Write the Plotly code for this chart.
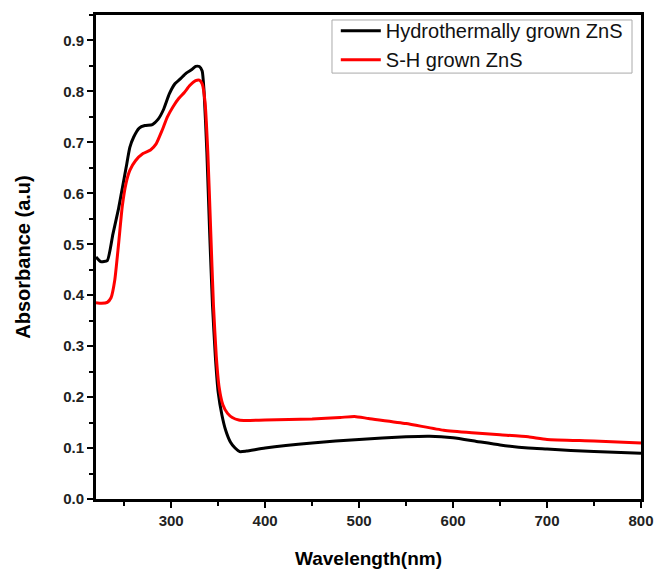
import plotly.graph_objects as go

wl_black = [220, 225, 232, 238, 244, 248, 252, 256, 260, 266, 272, 280, 286, 292, 298, 304, 310, 316, 322, 326, 330, 333, 335, 338, 341, 344, 347, 350, 354, 358, 363, 368, 373, 380, 400, 450, 500, 550, 575, 600, 625, 650, 680, 700, 750, 800]
ab_black = [0.475, 0.466, 0.468, 0.52, 0.57, 0.61, 0.65, 0.69, 0.71, 0.728, 0.733, 0.735, 0.745, 0.765, 0.795, 0.815, 0.825, 0.836, 0.843, 0.849, 0.849, 0.84, 0.8, 0.68, 0.52, 0.38, 0.28, 0.21, 0.165, 0.135, 0.112, 0.1, 0.093, 0.094, 0.1, 0.11, 0.117, 0.122, 0.123, 0.12, 0.113, 0.106, 0.1, 0.098, 0.093, 0.09]

wl_red = [220, 226, 232, 236, 240, 244, 248, 252, 256, 262, 270, 278, 284, 290, 296, 302, 308, 314, 320, 326, 330, 333, 336, 339, 342, 345, 348, 351, 355, 360, 365, 372, 380, 400, 450, 480, 495, 510, 550, 590, 620, 650, 680, 700, 750, 800]
ab_red = [0.385, 0.384, 0.386, 0.395, 0.43, 0.5, 0.575, 0.62, 0.645, 0.664, 0.678, 0.685, 0.697, 0.722, 0.75, 0.77, 0.786, 0.798, 0.812, 0.821, 0.822, 0.815, 0.78, 0.68, 0.53, 0.38, 0.28, 0.22, 0.185, 0.168, 0.16, 0.155, 0.154, 0.155, 0.157, 0.16, 0.162, 0.158, 0.148, 0.135, 0.13, 0.126, 0.122, 0.117, 0.114, 0.11]

x_ticks = [300, 400, 500, 600, 700, 800]
y_ticks = [0.0, 0.1, 0.2, 0.3, 0.4, 0.5, 0.6, 0.7, 0.8, 0.9]

FONT = "Liberation Sans, Arial, sans-serif"

fig = go.Figure()
fig.add_trace(go.Scatter(x=wl_black, y=ab_black, mode="lines", name="Hydrothermally grown ZnS",
                         line=dict(color="black", width=3, shape="spline", smoothing=0.5)))
fig.add_trace(go.Scatter(x=wl_red, y=ab_red, mode="lines", name="S-H grown ZnS",
                         line=dict(color="#ff0000", width=3, shape="spline", smoothing=0.5)))

# legend frame (tighter than plotly's own legend border)
fig.add_shape(type="rect", xref="paper", yref="paper",
              x0=0.433, x1=0.9835, y0=0.880, y1=0.9897,
              line=dict(color="#aaaaaa", width=1), fillcolor="white", layer="above")

fig.update_layout(
    width=654, height=571,
    margin=dict(l=96, r=13, t=15, b=72, autoexpand=False),
    plot_bgcolor="white", paper_bgcolor="white",
    showlegend=True,
    legend=dict(x=0.44, y=1.008, xanchor="left", yanchor="top",
                borderwidth=0, bgcolor="rgba(0,0,0,0)",
                font=dict(family=FONT, size=20, color="#111"),
                tracegroupgap=0, itemwidth=40),
)
fig.update_xaxes(
    range=[220, 800], tickvals=x_ticks, ticktext=[f"<b>{v}</b>" for v in x_ticks],
    ticks="outside", ticklen=6, tickwidth=2, tickcolor="black",
    minor=dict(ticks="outside", ticklen=4, tickwidth=2, tickcolor="black", dtick=50, tick0=200),
    showline=True, linewidth=3, linecolor="black", mirror=True,
    showgrid=False, zeroline=False, automargin=False,
    tickfont=dict(family=FONT, size=15, color="#222"),
    title=dict(text="<b>Wavelength(nm)</b>", font=dict(family=FONT, size=19, color="black"), standoff=24),
)
fig.update_yaxes(
    range=[0, 0.95], tickvals=y_ticks, ticktext=[f"<b>{v:.1f}</b>" for v in y_ticks],
    ticks="outside", ticklen=6, tickwidth=2, tickcolor="black",
    minor=dict(ticks="outside", ticklen=4, tickwidth=2, tickcolor="black", dtick=0.05, tick0=0),
    showline=True, linewidth=3, linecolor="black", mirror=True,
    showgrid=False, zeroline=False, automargin=False,
    tickfont=dict(family=FONT, size=15, color="#222"),
    title=dict(text="<b>Absorbance (a.u)</b>", font=dict(family=FONT, size=20, color="black"), standoff=28),
)

fig.write_html("out.html")
